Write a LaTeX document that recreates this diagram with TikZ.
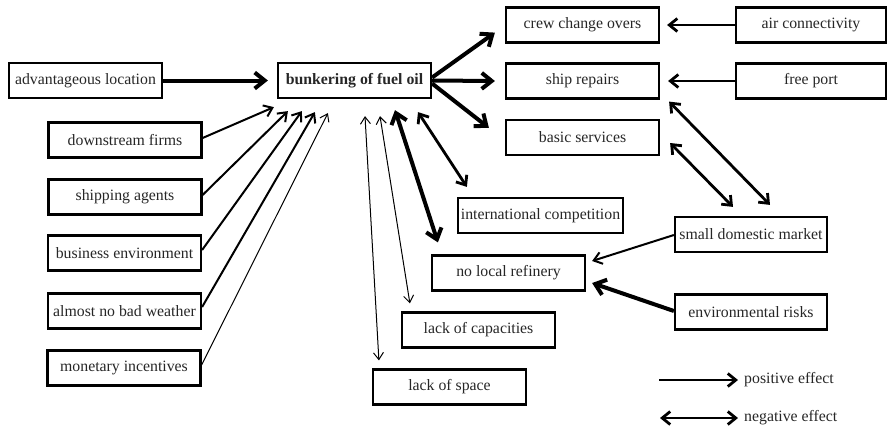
\documentclass[tikz,border=0pt]{standalone}
\usepackage{fontspec}
\setmainfont{Liberation Serif}
\usetikzlibrary{arrows.meta,calc}
\begin{document}
\begin{tikzpicture}[x=1bp,y=-1bp,
  box/.style={draw, line width=2.2bp, minimum height=35bp, minimum width=153bp, inner sep=1bp, text=black!85, font=\fontsize{15.8bp}{18bp}\selectfont},
  lbl/.style={inner sep=0pt, anchor=west, text=black!85, font=\fontsize{15.8bp}{18bp}\selectfont},
  wA/.style={line width=4bp, >={Straight Barb[length=10bp,width=16bp]}},
  wB/.style={line width=2.8bp, >={Straight Barb[length=8bp,width=13bp]}},
  wC/.style={line width=2bp, >={Straight Barb[length=8bp,width=12bp]}},
  wD/.style={line width=1bp, >={Straight Barb[length=7bp,width=10bp]}},
]
\useasboundingbox (0,0) rectangle (889,431);

% nodes
\node[box] (adv) at (85.5,80.5) {advantageous location};
\node[box, font=\fontsize{15.8bp}{18bp}\selectfont\bfseries] (bunk) at (354.5,80.5) {bunkering of fuel oil};
\node[box] (down) at (125,140) {downstream firms};
\node[box] (shipag) at (125,197) {shipping agents};
\node[box] (bus) at (124.5,253) {business environment};
\node[box] (weather) at (124.5,311) {almost no bad weather};
\node[box] (monet) at (124,368) {monetary incentives};
\node[box] (crew) at (582.5,25) {crew change overs};
\node[box, minimum width=150bp] (air) at (811,25) {air connectivity};
\node[box] (repairs) at (582.5,81) {ship repairs};
\node[box, minimum width=150bp] (free) at (811,81) {free port};
\node[box] (basic) at (582.5,137.5) {basic services};
\node[box, minimum width=165bp, inner sep=0pt] (intl) at (540.5,215.5) {international competition};
\node[box, minimum width=152bp, inner sep=0pt] (small) at (751,234.5) {small domestic market};
\node[box] (norefin) at (508.5,273) {no local refinery};
\node[box, minimum width=152bp] (env) at (751,312) {environmental risks};
\node[box] (capac) at (478.5,330) {lack of capacities};
\node[box] (space) at (449.5,387) {lack of space};

% positive effects into bunkering
\draw[wA,->] (adv.east) -- ($(bunk.west)+(-9,0)$);
\draw[wC,->] ($(down.east)+(0,-2)$) -- ($(bunk.south west)+(-3,8)$);
\draw[wC,->] ($(shipag.east)+(0,-2)$) -- ($(bunk.south west)+(11,12)$);
\draw[wC,->] ($(bus.east)+(0,-3)$) -- ($(bunk.south west)+(25,12)$);
\draw[wC,->] ($(weather.east)+(0,-4)$) -- ($(bunk.south west)+(38,13)$);
\draw[wD,->] ($(monet.east)+(0,-3)$) -- ($(bunk.south west)+(51,14)$);

% negative effects below bunkering
\draw[wD,<->] ($(bunk.south)+(10.5,17)$) -- ($(space.north west)+(7,-8)$);
\draw[wD,<->] ($(bunk.south)+(25.5,17)$) -- ($(capac.north west)+(9,-8)$);
\draw[wA,<->] ($(bunk.south)+(40.5,11)$) -- ($(norefin.north west)+(7,-12)$);
\draw[wB,<->] ($(bunk.south)+(63.5,13)$) -- ($(intl.north west)+(10,-10)$);

% bunkering to the right
\draw[wA,->] ($(bunk.east)+(0,-3)$) -- ($(crew.south west)+(-10,-11)$);
\draw[wA,->] (bunk.east) -- ($(repairs.west)+(-10,0)$);
\draw[wA,->] ($(bunk.east)+(0,3)$) -- ($(basic.north west)+(-16,9)$);

\draw[wB,->] (air.west) -- ($(crew.east)+(7,0)$);
\draw[wB,->] (free.west) -- ($(repairs.east)+(8,0)$);

\draw[wB,<->] ($(repairs.south east)+(9,2)$) -- ($(small.north)+(19,-11)$);
\draw[wB,<->] ($(basic.east)+(10,5.5)$) -- ($(small.north)+(-18,-9)$);

\draw[wC,->] ($(small.west)+(0,0.5)$) -- ($(norefin.east)+(6,-12)$);
\draw[wA,->] ($(env.west)+(0,-1)$) -- ($(norefin.east)+(6,10)$);

% legend
\coordinate (lp1) at (659,380);
\coordinate (lp2) at (738,380);
\coordinate (ln1) at (660,418);
\coordinate (ln2) at (738,418);
\draw[wB,->] (lp1) -- (lp2);
\draw[wB,<->] (ln1) -- (ln2);
\node[lbl] (lpt) at (744,380) {positive effect};
\node[lbl] (lnt) at (744,418) {negative effect};
\end{tikzpicture}
\end{document}
